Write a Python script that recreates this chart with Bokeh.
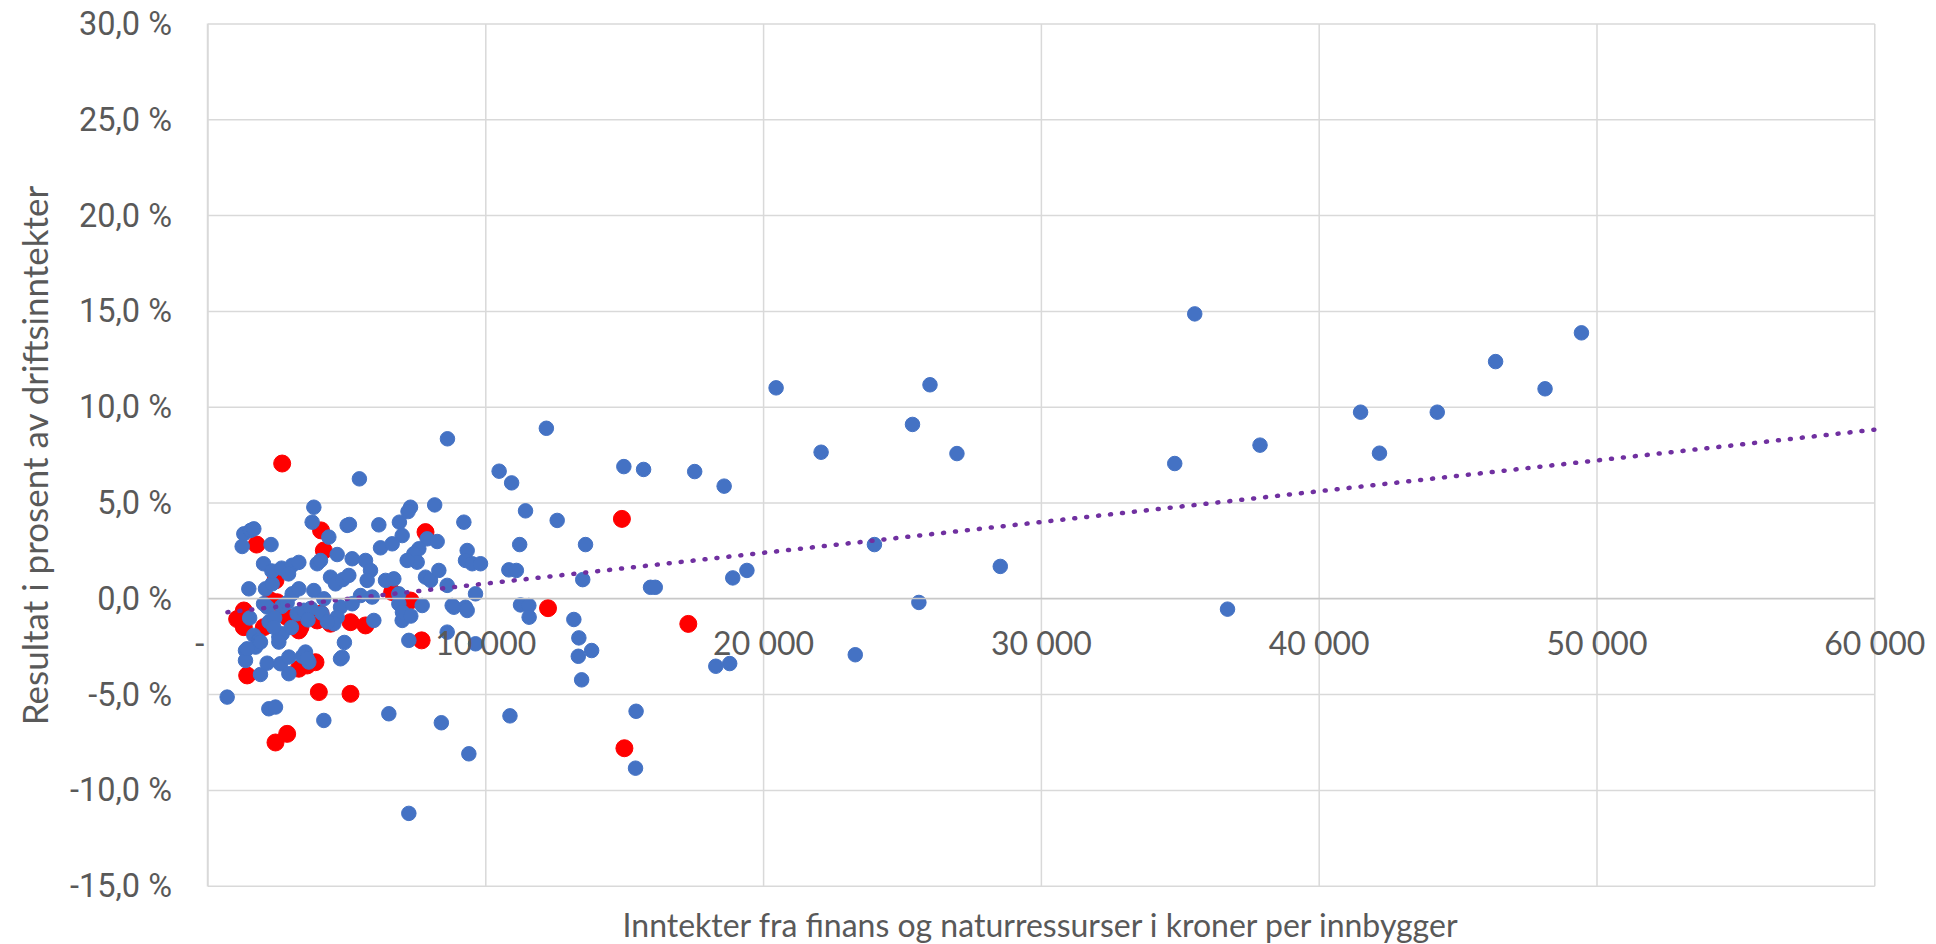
import math
from bokeh.plotting import figure
from bokeh.models import Range1d, FixedTicker, Label
from bokeh.embed import file_html
from bokeh.resources import INLINE

# ---------------- data ----------------
blue_x = [690, 1230, 1290, 1530, 1650, 1470, 2070, 2310, 2270, 2000, 2300, 2650, 3030, 3270, 2900,
          3930, 4050, 3810, 3750, 4350, 4650, 5010, 4410, 4590, 4850, 3030, 3270, 3810, 4170, 4770,
          4650, 4530, 2130, 2000, 2650, 2850, 3210, 3450, 3700, 4100, 1650, 1830, 1710, 1350, 1350,
          1890, 2130, 2610, 2910, 2910, 2550, 2670, 2550, 2200, 2400, 3510, 3630, 3400, 4910, 4770,
          2190, 2430, 4170, 1500, 3000, 3600, 4300, 1890, 1410, 3570, 4830, 2370,
          5450, 5090, 6150, 6890, 7290, 7200, 8160, 9210, 6990, 7890, 8250, 6210, 6630, 7590, 7410,
          7530, 7170, 9330, 9270, 9510, 5190, 5670, 5850, 5730, 5070, 6390, 6690, 7830, 8010, 8310,
          8610, 9630, 5490, 5910, 5190, 6870, 6870, 7710, 8790, 9270, 8850, 9330, 5970, 6990, 7000,
          7300, 8610, 7230, 9630, 6510, 8400, 9390, 7230, 8620,
          10480, 10930, 12180, 14970, 15680, 17520, 18580, 22070, 11430, 12570, 11220, 13590, 10830,
          11100, 13490, 15930, 16100, 18890, 19400, 9810, 11250, 11550, 11560, 13170, 13350, 13810,
          13330, 13450, 18280, 18780, 10870, 15410, 15390, 23990, 23300, 25590, 28520, 20450, 25990,
          25360, 26960, 34800, 35520, 36700, 37870, 41490, 42170, 44250, 46350, 48130, 49440]
blue_y = [-5.13, 2.73, 3.39, 3.57, 3.65, 0.52, 0.52, 0.78, 2.83, 1.83, 1.45, 1.60, 1.75, 1.90, 1.30,
          1.83, 2.00, 4.78, 4.00, 3.22, 2.31, 3.83, 1.13, 0.78, 1.00, 0.26, 0.52, 0.43, 0.00, -0.43,
          -0.96, -1.30, -0.43, -0.26, -0.40, -0.20, -0.78, -0.60, -0.50, -0.75, -1.91, -2.17, -2.52, -2.70, -3.22,
          -3.95, -3.36, -3.39, -3.04, -3.91, -2.00, -1.83, -2.26, -1.20, -1.00, -2.78, -3.30, -3.00, -2.28, -3.13,
          -5.74, -5.65, -6.35, -1.00, -1.50, -1.10, -1.20, -2.26, -2.61, -3.13, -3.05, -1.48,
          6.26, 3.88, 3.86, 4.00, 4.78, 4.55, 4.90, 4.00, 3.30, 3.13, 2.99, 2.66, 2.87, 2.61, 2.35,
          1.91, 2.00, 2.52, 2.00, 1.83, 2.09, 2.00, 1.48, 0.96, 1.22, 0.96, 1.04, 1.13, 0.96, 1.48,
          0.70, 0.26, 0.17, 0.09, -0.26, 0.26, -0.26, -0.35, -0.35, -0.44, -0.44, -0.61, -1.13, -1.13, -0.70,
          -0.90, -1.74, -2.17, -2.35, -6.00, -6.47, -8.09, -11.20, 8.35,
          6.66, 6.05, 8.90, 6.90, 6.75, 6.64, 5.88, 7.65, 4.59, 4.09, 2.83, 2.83, 1.51,
          1.48, 1.00, 0.60, 0.60, 1.09, 1.48, 1.83, -0.32, -0.35, -0.96, -1.08, -2.04, -2.70,
          -3.00, -4.23, -3.52, -3.38, -6.11, -5.87, -8.84, 2.83, -2.92, -0.19, 1.69, 11.01, 11.17,
          9.10, 7.58, 7.06, 14.87, -0.54, 8.02, 9.74, 7.60, 9.74, 12.38, 10.96, 13.88]

red_x = [2670, 4070, 1750, 4170, 7830, 14900, 12240, 17290, 14990, 6630, 7290, 7690, 3990, 5130,
         2430, 2850, 1290, 1050, 1290, 2010, 2490, 2250, 2850, 3270, 3330, 1410, 3270, 3570, 3870,
         3930, 4410, 4050, 5130, 5670, 2430]
red_y = [7.06, 3.57, 2.83, 2.52, 3.48, 4.17, -0.49, -1.31, -7.80, 0.35, -0.09, -2.17, -4.87, -4.96,
         -7.50, -7.05, -0.61, -1.06, -1.48, -1.48, -0.18, -0.09, -0.96, -1.65, -1.48, -4.00, -3.65, -3.48, -3.31,
         -1.13, -1.30, -0.78, -1.22, -1.39, 0.96]

trend_x = [700, 60000]
trend_y = [-0.70, 8.83]

x_ticks = [0, 10000, 20000, 30000, 40000, 50000, 60000]
x_tick_labels = ["-\u00a0\u00a0", "10 000", "20 000", "30 000", "40 000", "50 000", "60 000"]
y_ticks = [-15, -10, -5, 0, 5, 10, 15, 20, 25, 30]
y_tick_labels = ["-15,0 %", "-10,0 %", "-5,0 %", "0,0 %", "5,0 %", "10,0 %", "15,0 %",
                 "20,0 %", "25,0 %", "30,0 %"]
x_title = "Inntekter fra finans og naturressurser i kroner per innbygger"
y_title = "Resultat i prosent av driftsinntekter"

# ---------------- styling ----------------
TXT = "#595959"
GRID = "#D9D9D9"
FONT = "Lato"

x_lo, x_hi = x_ticks[0], x_ticks[-1]
y_lo, y_hi = y_ticks[0], y_ticks[-1]

# The frame fills the whole canvas; the visible ranges leave room for the
# tick labels and titles around the 0..60000 x -15..30 plot area.
p = figure(width=1936, height=944,
           x_range=Range1d(-7469, 62221), y_range=Range1d(-18.043, 31.2265),
           output_backend="svg", toolbar_location=None,
           min_border=0, min_border_left=0, min_border_right=0,
           min_border_top=0, min_border_bottom=0)
p.outline_line_color = None
p.background_fill_color = "white"
p.border_fill_color = "white"
p.xgrid.visible = False
p.ygrid.visible = False

# gridlines limited to the plot area
p.segment(x0=x_ticks, y0=[y_lo] * len(x_ticks), x1=x_ticks, y1=[y_hi] * len(x_ticks),
          line_color=GRID, line_width=1.5)
p.segment(x0=[x_lo] * len(y_ticks), y0=y_ticks, x1=[x_hi] * len(y_ticks), y1=y_ticks,
          line_color=GRID, line_width=1.5)

# x axis crossing at y = 0
xa = p.xaxis[0]
xa.ticker = FixedTicker(ticks=x_ticks)
xa.major_label_overrides = dict(zip(x_ticks, x_tick_labels))
xa.fixed_location = 0
xa.bounds = (x_lo, x_hi)
xa.axis_line_color = "#C8C8C8"
xa.axis_line_width = 1.5
xa.major_tick_line_color = None
xa.minor_tick_line_color = None
xa.major_tick_out = 0
xa.major_tick_in = 0
xa.major_label_standoff = 24
xa.major_label_text_font = FONT
xa.major_label_text_font_size = "32px"
xa.major_label_text_color = TXT

# y axis at x = 0
ya = p.yaxis[0]
ya.ticker = FixedTicker(ticks=y_ticks)
ya.major_label_overrides = dict(zip(y_ticks, y_tick_labels))
ya.fixed_location = 0
ya.bounds = (y_lo, y_hi)
ya.axis_line_color = GRID
ya.axis_line_width = 1.5
ya.major_tick_line_color = None
ya.minor_tick_line_color = None
ya.major_tick_out = 0
ya.major_tick_in = 0
ya.major_label_standoff = 36
ya.major_label_text_font = "Roboto"
ya.major_label_text_font_size = "32.5px"
ya.major_label_text_color = TXT

# axis titles
p.add_layout(Label(x=(x_lo + x_hi) / 2, y=-17.0, x_units="data", y_units="data", text=x_title,
                   text_align="center", text_baseline="middle", text_font=FONT,
                   text_font_size="32px", text_color=TXT))
p.add_layout(Label(x=-6250, y=(y_lo + y_hi) / 2, x_units="data", y_units="data", text=y_title,
                   angle=math.pi / 2, text_align="center", text_baseline="middle", text_font=FONT,
                   text_font_size="35px", text_color=TXT))

p.scatter(red_x, red_y, size=17, fill_color="#FF0000", line_color="#FF0000", line_width=1)
p.scatter(blue_x, blue_y, size=14.5, fill_color="#4472C4", line_color="#4472C4", line_width=1)
p.line(trend_x, trend_y, line_color="#7030A0", line_width=4.5, line_dash="1 11", line_cap="round")

open("out.html", "w").write(file_html(p, INLINE))
